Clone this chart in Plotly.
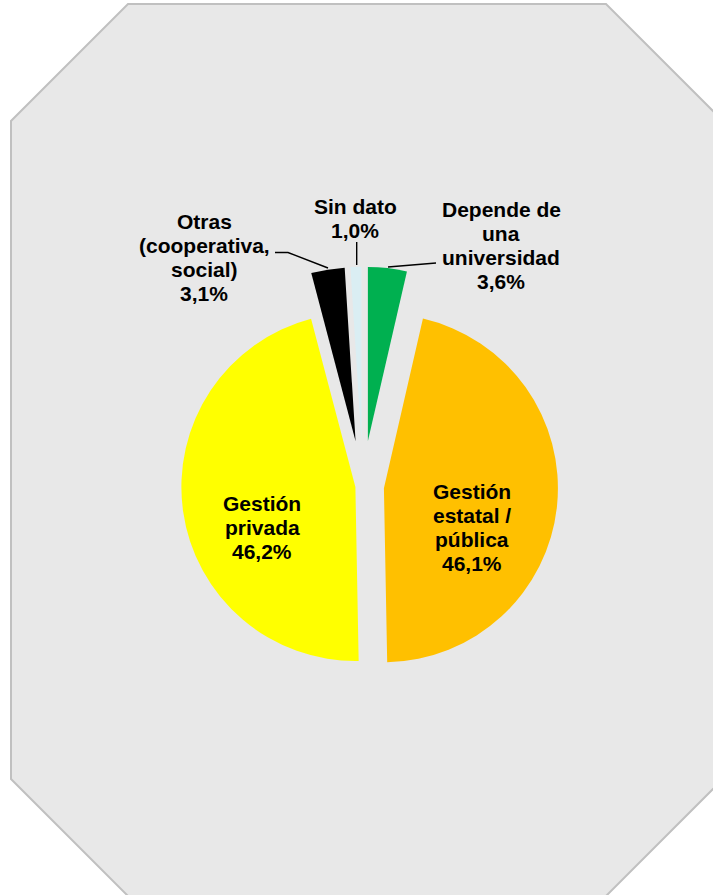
import plotly.graph_objects as go

# ---------------- data ----------------
categories = [
    "Depende de una universidad",
    "Gestión estatal / pública",
    "Gestión privada",
    "Otras (cooperativa, social)",
    "Sin dato",
]
values = [3.6, 46.1, 46.2, 3.1, 1.0]
label_lines = [
    ["Depende de", "una", "universidad"],
    ["Gestión", "estatal /", "pública"],
    ["Gestión", "privada"],
    ["Otras", "(cooperativa,", "social)"],
    ["Sin dato"],
]
colors = ["#00B050", "#FFC000", "#FFFF00", "#000000", "#DAEEF3"]
pulls = [0.26, 0.122, 0.043, 0.26, 0.26]

# ---------------- layout helpers ----------------
W, H = 713, 895


def px(x):
    return x / W


def py(y):
    return 1 - y / H


# label anchor: (center x, first baseline y) in page pixels
label_pos = [
    (501, 216.7),
    (471.5, 499),
    (262, 511),
    (204, 229),
    (355, 214.3),
]
LINE_STEP = 24
FONT_SIZE = 21

fig = go.Figure()

cx, cy, side = 362.8, 486.0, 438.5
fig.add_trace(go.Pie(
    labels=categories,
    values=values,
    sort=False,
    direction="clockwise",
    rotation=0,
    pull=pulls,
    marker=dict(colors=colors, line=dict(width=0)),
    textinfo="none",
    hoverinfo="label+percent",
    showlegend=False,
    domain=dict(
        x=[px(cx - side / 2), px(cx + side / 2)],
        y=[py(cy + side / 2), py(cy - side / 2)],
    ),
))

annotations = []
for lines, val, (lx, lb) in zip(label_lines, values, label_pos):
    all_lines = lines + [f"{val:.1f}%".replace(".", ",")]
    for i, t in enumerate(all_lines):
        base = lb + i * LINE_STEP
        annotations.append(dict(
            x=px(lx), y=py(base - 7.4), xref="paper", yref="paper",
            text=f"<b>{t}</b>", showarrow=False,
            xanchor="center", yanchor="middle",
            font=dict(family="Liberation Sans, Arial, sans-serif",
                      size=FONT_SIZE, color="#000000"),
        ))

# octagon background
oct_pts = [(128, 4), (606, 4), (723, 121), (723, 779), (606, 896),
           (128, 896), (11, 779), (11, 121)]
path = "M " + " L ".join(f"{px(x):.5f},{py(y):.5f}" for x, y in oct_pts) + " Z"
shapes = [dict(type="path", path=path, xref="paper", yref="paper",
               fillcolor="#E8E8E8", line=dict(color="#C0C0C0", width=2),
               layer="below")]

# leader lines
leaders = [
    [(388, 267), (436, 263)],
    [(356.7, 242), (356.7, 265)],
    [(275, 252.5), (288, 252.5), (328, 268)],
]
for pts in leaders:
    p = "M " + " L ".join(f"{px(x):.5f},{py(y):.5f}" for x, y in pts)
    shapes.append(dict(type="path", path=p, xref="paper", yref="paper",
                       line=dict(color="#000000", width=1.4)))

fig.update_layout(
    width=W, height=H,
    margin=dict(l=0, r=0, t=0, b=0, pad=0),
    paper_bgcolor="#FFFFFF",
    plot_bgcolor="#FFFFFF",
    shapes=shapes,
    annotations=annotations,
)

fig.write_html(
    "out.html",
    config={"displayModeBar": False},
    post_script="document.body.style.margin='0';document.body.style.overflow='hidden';",
)
